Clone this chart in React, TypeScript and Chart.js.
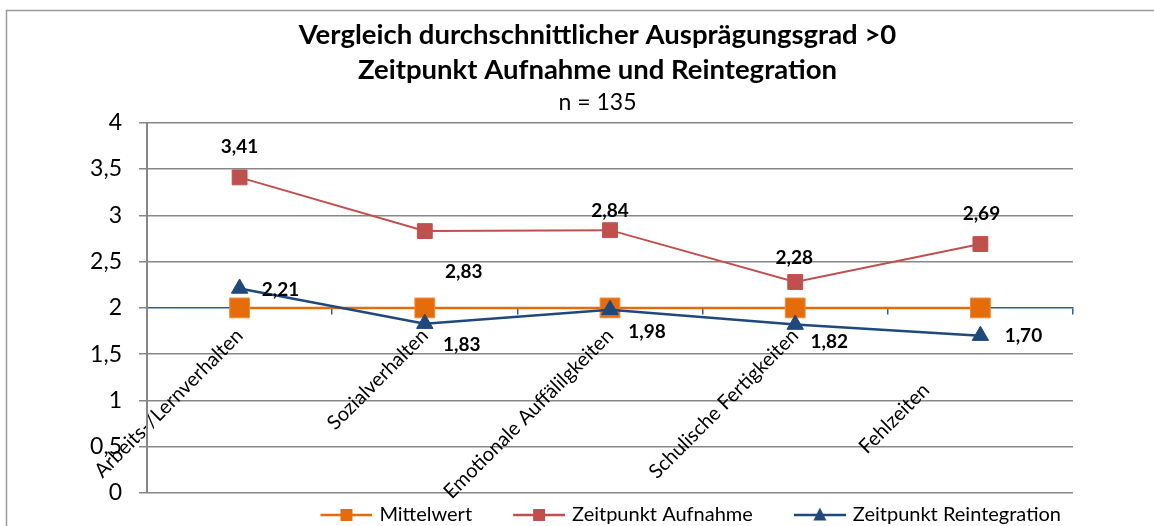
import React, { useEffect, useRef } from 'react';
import { Chart, registerables } from 'chart.js';

Chart.register(...registerables);

// ---------- data ----------
const categories = [
  'Arbeits-/Lernverhalten',
  'Sozialverhalten',
  'Emotionale Auffälilgkeiten',
  'Schulische Fertigkeiten',
  'Fehlzeiten',
];
const mittelwert = [2, 2, 2, 2, 2];
const aufnahme = [3.41, 2.83, 2.84, 2.28, 2.69];
const reintegration = [2.21, 1.83, 1.98, 1.82, 1.7];
const seriesNames = ['Mittelwert', 'Zeitpunkt Aufnahme', 'Zeitpunkt Reintegration'];
const titleLines = ['Vergleich durchschnittlicher Ausprägungsgrad >0', 'Zeitpunkt Aufnahme und Reintegration'];
const subtitleText = 'n = 135';
const yMin = 0;
const yMax = 4;
const yStep = 0.5;
const axisCrossValue = 2;

// ---------- styles ----------
const FONT = 'Lato, "Open Sans", "DejaVu Sans", sans-serif';
const ORANGE = '#E46C0A';
const RED = '#C0504D';
const BLUE = '#1F497D';
const AXIS_BLUE = '#2F5E97';
const GRID = '#878787';

// data label offsets (pixels relative to the point)
const aufnahmeLabelOffsets = [[0, -31], [39, 41], [0, -19], [-1, -24], [1, -30]];
const reintegrationLabelOffsets = [[41, 1], [37, 21], [37, 22], [34, 17], [43, 0]];
// trailing gap (in spaces) after each rotated category label
const categoryLabelGap = [0, 0, 0, 0, 15];

const fmt = (v: number, d: number) => v.toFixed(d).replace('.', ',');

function makeLegendImage(color: string, marker: 'square' | 'triangle', size: number) {
  const c = document.createElement('canvas');
  c.width = 84;
  c.height = 20;
  const ctx = c.getContext('2d')!;
  ctx.strokeStyle = color;
  ctx.lineWidth = 2.5;
  ctx.beginPath();
  ctx.moveTo(32, 10);
  ctx.lineTo(84, 10);
  ctx.stroke();
  ctx.fillStyle = color;
  const cx = 58;
  if (marker === 'square') {
    ctx.fillRect(cx - size / 2, 10 - size / 2, size, size);
  } else {
    ctx.beginPath();
    ctx.moveTo(cx, 10 - size / 2 - 1);
    ctx.lineTo(cx + size / 2, 10 + size / 2 - 1);
    ctx.lineTo(cx - size / 2, 10 + size / 2 - 1);
    ctx.closePath();
    ctx.fill();
  }
  return c;
}

const framePlugin = {
  id: 'frame',
  beforeDraw(chart: any) {
    const ctx = chart.ctx;
    ctx.save();
    ctx.strokeStyle = '#9a9a9a';
    ctx.lineWidth = 1.5;
    ctx.beginPath();
    ctx.moveTo(6.5, chart.height);
    ctx.lineTo(6.5, 10.5);
    ctx.lineTo(chart.width, 10.5);
    ctx.stroke();
    ctx.restore();
  },
};

const dataLabelPlugin = {
  id: 'dataLabels',
  afterDatasetsDraw(chart: any) {
    const ctx = chart.ctx;
    ctx.save();
    ctx.font = `bold 19px ${FONT}`;
    ctx.fillStyle = '#000';
    ctx.textAlign = 'center';
    ctx.textBaseline = 'middle';
    const sets: [number, number[], number[][]][] = [
      [1, aufnahme, aufnahmeLabelOffsets],
      [2, reintegration, reintegrationLabelOffsets],
    ];
    sets.forEach(([di, vals, offs]) => {
      const meta = chart.getDatasetMeta(di);
      meta.data.forEach((pt: any, i: number) => {
        ctx.fillText(fmt(vals[i], 2), pt.x + offs[i][0], pt.y + offs[i][1]);
      });
    });
    ctx.restore();
  },
};

export default function App() {
  const canvasRef = useRef<HTMLCanvasElement>(null);

  useEffect(() => {
    if (!canvasRef.current) return;
    Chart.defaults.font.family = FONT;
    const legendImages = [
      makeLegendImage(ORANGE, 'square', 12),
      makeLegendImage(RED, 'square', 12),
      makeLegendImage(BLUE, 'triangle', 13),
    ];
    const colors = [ORANGE, RED, BLUE];

    const chart = new Chart(canvasRef.current, {
      type: 'line',
      data: {
        labels: categories,
        datasets: [
          {
            label: seriesNames[0],
            data: mittelwert,
            borderColor: ORANGE,
            backgroundColor: ORANGE,
            borderWidth: 2.5,
            pointStyle: 'rect',
            pointRadius: 14,
            pointBorderWidth: 1,
            pointBorderColor: '#F08A3A',
            pointBackgroundColor: ORANGE,
            order: 2,
          },
          {
            label: seriesNames[1],
            data: aufnahme,
            borderColor: RED,
            backgroundColor: RED,
            borderWidth: 2,
            pointStyle: 'rect',
            pointRadius: 10.5,
            pointBorderWidth: 1,
            pointBorderColor: RED,
            pointBackgroundColor: RED,
            order: 1,
          },
          {
            label: seriesNames[2],
            data: reintegration,
            borderColor: BLUE,
            backgroundColor: BLUE,
            borderWidth: 2.5,
            pointStyle: 'triangle',
            pointRadius: 9.5,
            pointBorderWidth: 1,
            pointBorderColor: BLUE,
            pointBackgroundColor: BLUE,
            order: 0,
          },
        ],
      },
      options: {
        animation: false,
        responsive: true,
        maintainAspectRatio: false,
        layout: { padding: { left: 41, right: 0, top: 0, bottom: -9 } },
        plugins: {
          title: {
            display: true,
            text: titleLines,
            color: '#000',
            font: { size: 27.5, weight: 'bold', lineHeight: 35 / 27.5 },
            padding: { top: 17.5, bottom: 0 },
          },
          subtitle: {
            display: true,
            text: subtitleText,
            color: '#000',
            font: { size: 23, lineHeight: 1.1 },
            padding: { top: 2.5, bottom: 7.5 },
          },
          legend: {
            position: 'bottom',
            align: 'end',
            fullSize: false,
            labels: {
              usePointStyle: true,
              pointStyleWidth: 78,
              padding: 12,
              color: '#000',
              font: { size: 20 },
              generateLabels: () =>
                seriesNames.map((name, i) => ({
                  text: name,
                  fillStyle: colors[i],
                  strokeStyle: colors[i],
                  lineWidth: 0,
                  pointStyle: legendImages[i],
                  hidden: false,
                  datasetIndex: i,
                  fontColor: '#000',
                })),
            },
          },
          tooltip: { enabled: false },
        },
        scales: {
          x: {
            type: 'category',
            position: { y: axisCrossValue },
            offset: true,
            grid: {
              offset: true,
              drawOnChartArea: false,
              color: AXIS_BLUE,
              tickLength: 6,
              lineWidth: 1.5,
            },
            border: { color: AXIS_BLUE, width: 1.5 },
            ticks: {
              autoSkip: false,
              minRotation: 45,
              maxRotation: 45,
              color: '#000',
              font: { size: 20 },
              padding: 10,
              callback: (_v: any, i: number) => categories[i] + '\u0020'.repeat(categoryLabelGap[i]),
            },
            afterFit: (s: any) => {
              s.height = 0;
            },
          },
          y: {
            min: yMin,
            max: yMax,
            ticks: {
              stepSize: yStep,
              color: '#000',
              font: { size: 23 },
              padding: 17,
              callback: (v: any) => String(v).replace('.', ','),
            },
            grid: {
              color: (c: any) => (c.tick && c.tick.value === axisCrossValue ? 'rgba(0,0,0,0)' : GRID),
              tickColor: GRID,
              tickLength: 8,
              lineWidth: 1.5,
            },
            border: { color: GRID, width: 2 },
            afterFit: (s: any) => {
              s.width = 106;
            },
          },
          yRight: {
            position: 'right',
            display: true,
            ticks: { display: false },
            grid: { display: false },
            border: { display: false },
            afterFit: (s: any) => {
              s.width = 81;
            },
          },
        },
      } as any,
      plugins: [framePlugin, dataLabelPlugin],
    });
    return () => chart.destroy();
  }, []);

  return (
    <div style={{ position: 'fixed', left: 0, top: 0, width: 1154, height: 526, background: '#fff' }}>
      <canvas ref={canvasRef} />
    </div>
  );
}
